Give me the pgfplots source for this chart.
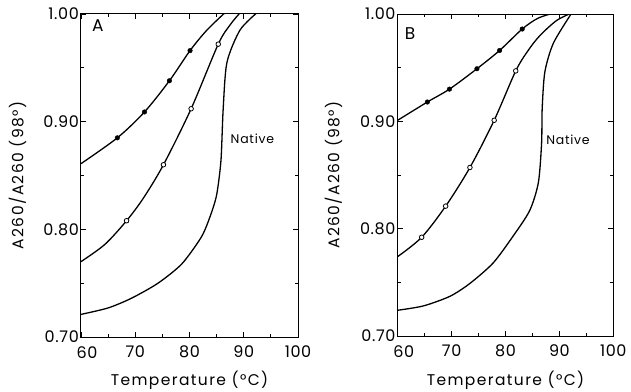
\documentclass[border=0pt]{standalone}
\usepackage{pgfplots}
\pgfplotsset{compat=1.18}
\usepackage{fontspec}
\setmainfont{Poppins}
\newcommand{\tickfont}{\fontsize{16}{18}\selectfont\addfontfeature{LetterSpace=4}}
\newcommand{\labfont}{\fontsize{15.5}{18}\selectfont\addfontfeature{LetterSpace=9}}
\begin{document}
\begin{tikzpicture}
\path[use as bounding box] (0pt,0pt) rectangle (631pt,391pt);
\pgfplotsset{panel/.style={
  scale only axis,
  xmin=60,xmax=100,ymin=0.70,ymax=1.00,
  xtick={60,70,80,90,100}, ytick={0.70,0.80,0.90,1.00},
  xticklabels={\hspace*{12pt}60,70,80,90,100},
  minor xtick={65,75,85,95}, minor ytick={0.75,0.85,0.95},
  tick align=inside, major tick length=5pt, minor tick length=3pt,
  every tick/.style={line width=0.8pt, black},
  axis line style={line width=1pt},
  /pgf/number format/assume math mode=true,
  yticklabel={\pgfmathprintnumber[fixed,fixed zerofill,precision=2]{\tick}},
  yticklabel style={font=\tickfont, inner sep=2pt},
  xticklabel style={font=\tickfont, inner sep=2pt, yshift=-7pt},
  clip=true,
  every axis plot/.append style={black},
}}
\begin{axis}[panel, at={(81pt,54pt)}, anchor=south west, width=217pt, height=323pt,
  xlabel={Temperature (°C)}, ylabel={A260/A260 (98°)},
  every axis x label/.style={at={(axis description cs:0.5,-0.133)},anchor=center,font=\labfont},
  every axis y label/.style={at={(axis description cs:-0.292,0.5)},anchor=center,rotate=90,font=\labfont}]
% filled series
\addplot[line width=1.3pt, smooth, tension=0.5] coordinates {(60,0.861) (66.7,0.885) (71.7,0.909) (76.3,0.938) (80.1,0.966) (83.2,0.985) (86.5,1.001)};
\addplot[only marks, mark=*, mark size=2.3pt] coordinates {(66.7,0.885) (71.7,0.909) (76.3,0.938) (80.1,0.966)};
% open series
\addplot[line width=1.3pt, smooth, tension=0.5] coordinates {(60,0.770) (64.4,0.786) (68.4,0.808) (71.5,0.829) (75.2,0.860) (80.3,0.912) (85.3,0.972) (87.5,0.990) (89.3,1.001)};
\addplot[only marks, mark=*, mark size=2.3pt, fill=white, mark options={line width=0.8pt}] coordinates {(68.4,0.808) (75.2,0.860) (80.3,0.912) (85.3,0.972)};
% native
\addplot[line width=1.3pt, smooth, tension=0.45] coordinates {(60,0.721) (65,0.727) (69.3,0.736) (74.2,0.750) (78.6,0.768) (82.2,0.793) (83.8,0.812) (85.0,0.832) (85.8,0.864) (86.2,0.911) (86.9,0.955) (89.3,0.985) (92.4,1.001)};
\node[font=\fontsize{12.5}{14}\selectfont\addfontfeature{LetterSpace=6}] at (axis cs:91.6,0.884) {Native};
\node[font=\fontsize{17}{19}\selectfont] at (axis cs:63.1,0.989) {A};
\end{axis}
\begin{axis}[panel, at={(397.7pt,55pt)}, anchor=south west, width=215.6pt, height=322pt,
  xlabel={Temperature (°C)}, ylabel={A260/A260 (98°)},
  every axis x label/.style={at={(axis description cs:0.5,-0.137)},anchor=center,font=\labfont},
  every axis y label/.style={at={(axis description cs:-0.298,0.5)},anchor=center,rotate=90,font=\labfont}]
\addplot[line width=1.3pt, smooth, tension=0.5] coordinates {(60,0.901) (65.5,0.918) (69.6,0.930) (74.7,0.949) (78.9,0.966) (83.1,0.986) (86,0.996) (89,1.001)};
\addplot[only marks, mark=*, mark size=2.3pt] coordinates {(65.5,0.918) (69.6,0.930) (74.7,0.949) (78.9,0.966) (83.1,0.986)};
\addplot[line width=1.3pt, smooth, tension=0.5] coordinates {(60,0.774) (64.45,0.792) (68.9,0.821) (73.4,0.857) (77.9,0.901) (81.9,0.947) (84.2,0.966) (86.4,0.980) (89.5,0.994) (92.3,1.001)};
\addplot[only marks, mark=*, mark size=2.3pt, fill=white, mark options={line width=0.8pt}] coordinates {(64.45,0.792) (68.9,0.821) (73.4,0.857) (77.9,0.901) (81.9,0.947)};
\addplot[line width=1.3pt, smooth, tension=0.45] coordinates {(60,0.724) (64.75,0.728) (69.7,0.737) (73.4,0.749) (77.7,0.768) (81.4,0.793) (84.5,0.817) (86.1,0.843) (86.7,0.880) (86.8,0.911) (87.3,0.946) (88.9,0.973) (92.3,1.001)};
\node[font=\fontsize{12.5}{14}\selectfont\addfontfeature{LetterSpace=6}] at (axis cs:91.6,0.883) {Native};
\node[font=\fontsize{17}{19}\selectfont] at (axis cs:62.3,0.982) {B};
\end{axis}
\end{tikzpicture}
\end{document}
